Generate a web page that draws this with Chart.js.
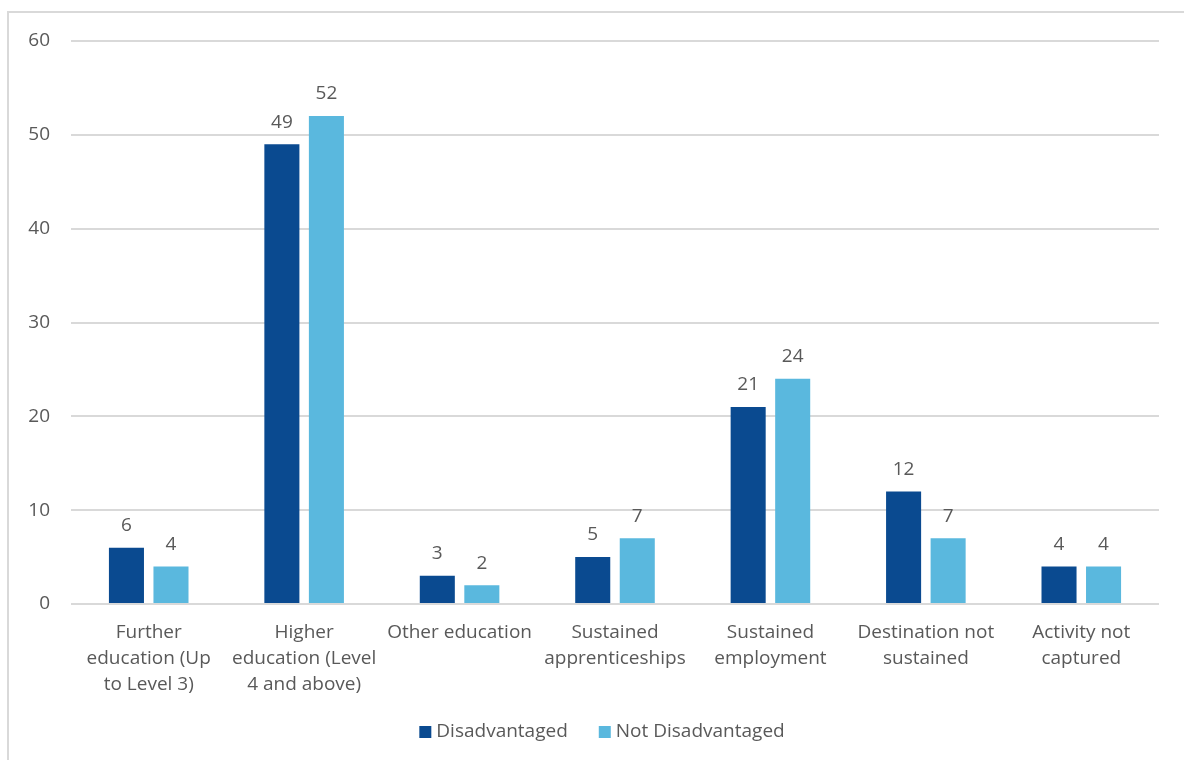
<!DOCTYPE html>
<html>
<head>
<meta charset="utf-8">
<script src="https://cdn.jsdelivr.net/npm/chart.js@4.4.1/dist/chart.umd.min.js"></script>
<style>
  html, body { margin: 0; padding: 0; background: #fff; overflow: hidden; }
  #wrap { position: relative; width: 1184px; height: 760px; }
  #frame { position: absolute; left: 7px; top: 11px; width: 1300px; height: 900px; border: 2px solid #d9d9d9; box-sizing: border-box; }
  canvas { position: absolute; left: 0; top: 0; }
</style>
</head>
<body>
<div id="wrap">
  <div id="frame"></div>
  <canvas id="chart" width="1184" height="760"></canvas>
</div>
<script>
// destinos por grupo (%)
const categorias = [
  ["Further", "education (Up", "to Level 3)"],
  ["Higher", "education (Level", "4 and above)"],
  "Other education",
  ["Sustained", "apprenticeships"],
  ["Sustained", "employment"],
  ["Destination not", "sustained"],
  ["Activity not", "captured"],
];
const desfavorecidos = [6, 49, 3, 5, 21, 12, 4];
const naoDesfavorecidos = [4, 52, 2, 7, 24, 7, 4];
const ticksY = [0, 10, 20, 30, 40, 50, 60];

const COR_ESCURA = "#0a4a90";
const COR_CLARA = "#5ab8de";
const COR_TEXTO = "#595959";
const FONTE = "'Open Sans', 'Liberation Sans', sans-serif";

// rotulo de valor acima de cada barra
const rotulos = {
  id: "rotulos",
  afterDatasetsDraw(chart) {
    const ctx = chart.ctx;
    ctx.save();
    ctx.font = "19px " + FONTE;
    ctx.fillStyle = COR_TEXTO;
    ctx.textAlign = "center";
    ctx.textBaseline = "middle";
    chart.data.datasets.forEach((ds, i) => {
      chart.getDatasetMeta(i).data.forEach((bar, j) => {
        ctx.fillText(String(ds.data[j]), bar.x, bar.y - 22);
      });
    });
    ctx.restore();
  },
};

// legenda desenhada a mao (quadrado colado ao texto, itens bem espacados)
const legenda = {
  id: "legenda",
  afterDraw(chart) {
    const ctx = chart.ctx;
    const caixa = 12, folga = 5, entre = 31;
    const y = 732;
    ctx.save();
    ctx.font = "19px " + FONTE;
    ctx.textBaseline = "middle";
    const itens = chart.data.datasets.map((ds) => ({
      texto: ds.label,
      cor: ds.backgroundColor,
      w: ctx.measureText(ds.label).width,
    }));
    const total = itens.reduce((s, it) => s + caixa + folga + it.w, 0) + entre * (itens.length - 1);
    let x = (chart.width + 20) / 2 - total / 2;
    itens.forEach((it) => {
      ctx.fillStyle = it.cor;
      ctx.fillRect(x, y - caixa / 2, caixa, caixa);
      x += caixa + folga;
      ctx.fillStyle = COR_TEXTO;
      ctx.fillText(it.texto, x, y);
      x += it.w + entre;
    });
    ctx.restore();
  },
};

new Chart(document.getElementById("chart"), {
  type: "bar",
  data: {
    labels: categorias,
    datasets: [
      { label: "Disadvantaged", data: desfavorecidos, backgroundColor: COR_ESCURA },
      { label: "Not Disadvantaged", data: naoDesfavorecidos, backgroundColor: COR_CLARA },
    ],
  },
  options: {
    responsive: false,
    animation: false,
    layout: { padding: { top: 41, right: 25, left: 0, bottom: 56 } },
    datasets: { bar: { categoryPercentage: 0.573, barPercentage: 0.787 } },
    plugins: {
      tooltip: { enabled: false },
      legend: { display: false },
    },
    scales: {
      x: {
        afterFit: (s) => { s.height = 100; },
        grid: { display: false },
        border: { display: false },
        ticks: {
          color: COR_TEXTO,
          font: { family: FONTE, size: 19, lineHeight: 1.37 },
          padding: 8,
          maxRotation: 0,
          autoSkip: false,
        },
      },
      y: {
        min: 0,
        max: 60,
        afterFit: (s) => { s.width = 71; },
        afterBuildTicks: (s) => { s.ticks = ticksY.map((v) => ({ value: v })); },
        grid: { color: "#d9d9d9", lineWidth: 2, drawTicks: false },
        border: { display: false },
        ticks: {
          color: COR_TEXTO,
          font: { family: FONTE, size: 19 },
          padding: 21,
        },
      },
    },
  },
  plugins: [rotulos, legenda],
});
</script>
</body>
</html>
